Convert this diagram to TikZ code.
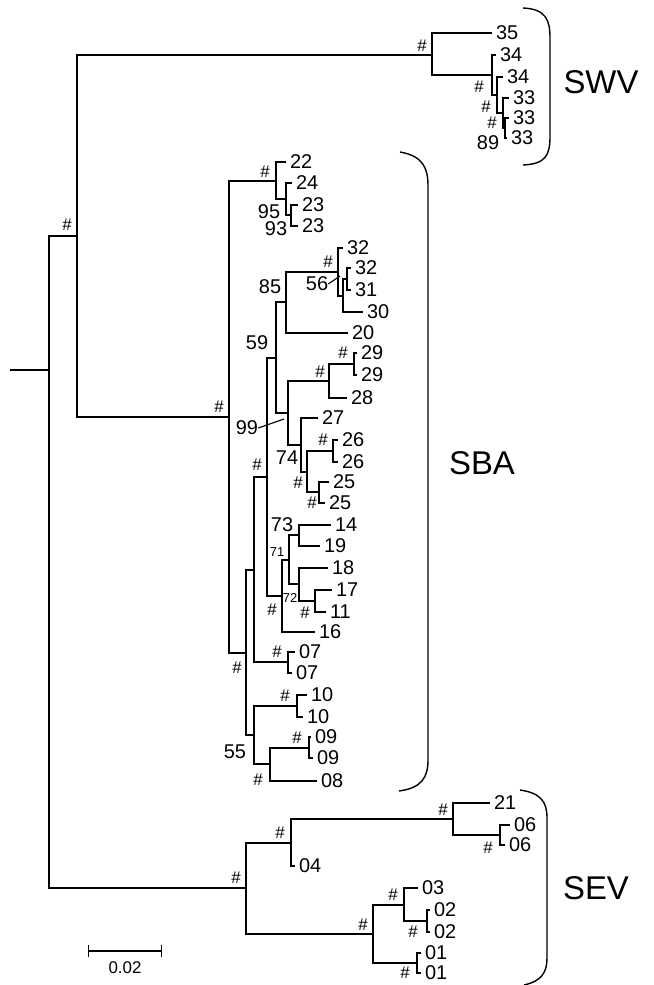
\documentclass[tikz,border=0pt]{standalone}
\usepackage{fontspec}
\setmainfont{Liberation Sans}
\usetikzlibrary{arrows.meta}

\begin{document}
\begin{tikzpicture}[x=1bp, y=-1bp,
    font=\fontsize{20}{22}\selectfont,
    branch/.style={draw=black, line width=1.4bp},
    leaf/.style={anchor=west, inner xsep=4bp, inner ysep=1bp, outer sep=0pt},
    hash/.style={inner sep=0pt, font=\fontsize{17}{18}\selectfont},
    support/.style={inner sep=0pt},
    tiny support/.style={inner sep=0pt, font=\fontsize{13}{14}\selectfont},
    clade/.style={inner sep=0pt, font=\fontsize{33}{36}\selectfont},
    bracket/.style={draw=black, line width=1.4bp},
    pointer/.style={draw=black, line width=1.1bp}
  ]
    \useasboundingbox (0,0) rectangle (654,985);

    \coordinate (stub) at (10,370);
    \coordinate (root) at (49,370);
    \coordinate (top) at (77,236);
    \node[hash] (htop) at (67,225) {\#};

    \coordinate (swv) at (432,55);
    \coordinate (sa) at (492,75);
    \coordinate (sb) at (497,95);
    \coordinate (sc) at (503,113);
    \coordinate (sd) at (505,128);
    \node[leaf] (l35) at (492,33) {35};
    \node[leaf] (l34a) at (496,55) {34};
    \node[leaf] (l34b) at (503,77) {34};
    \node[leaf] (l33a) at (509,98) {33};
    \node[leaf] (l33b) at (509,118) {33};
    \node[leaf] (l33c) at (507,138) {33};
    \node[hash] (hswv) at (422,46) {\#};
    \node[hash] (hsa) at (479,87) {\#};
    \node[hash] (hsb) at (486,107) {\#};
    \node[hash] (hsc) at (492,123) {\#};
    \node[support] (bsd) at (488,143) {89};

    \coordinate (sba) at (229,417);
    \coordinate (p1) at (276,181);
    \coordinate (p2) at (286,199);
    \coordinate (p3) at (291,215);
    \coordinate (u) at (246,653);
    \coordinate (t) at (254,570);
    \coordinate (r) at (267,477);
    \coordinate (n59) at (276,358);
    \coordinate (n85) at (286,302);
    \coordinate (n1) at (338,272);
    \coordinate (n2) at (343,296);
    \coordinate (n3) at (347,279);
    \coordinate (n99) at (288,413);
    \coordinate (n2928) at (329,381);
    \coordinate (n29) at (354,364);
    \coordinate (n74) at (301,445);
    \coordinate (q) at (307,472);
    \coordinate (n26) at (333,451);
    \coordinate (n25) at (319,492);
    \coordinate (s) at (282,596);
    \coordinate (n71) at (289,560);
    \coordinate (n73) at (299,535);
    \coordinate (n72) at (299,584);
    \coordinate (n1711) at (315,601);
    \coordinate (n07) at (288,662);
    \coordinate (v) at (254,735);
    \coordinate (n10) at (297,706);
    \coordinate (w) at (270,764);
    \coordinate (n09) at (309,748);

    \node[leaf] (l22) at (286,162) {22};
    \node[leaf] (l24) at (292,183) {24};
    \node[leaf] (l23a) at (298,205) {23};
    \node[leaf] (l23b) at (298,226) {23};
    \node[leaf] (l32a) at (343,248) {32};
    \node[leaf] (l32b) at (351,268) {32};
    \node[leaf] (l31) at (351,290) {31};
    \node[leaf] (l30) at (363,312) {30};
    \node[leaf] (l20) at (348,333) {20};
    \node[leaf] (l29a) at (357,353) {29};
    \node[leaf] (l29b) at (357,375) {29};
    \node[leaf] (l28) at (347,398) {28};
    \node[leaf] (l27) at (318,418) {27};
    \node[leaf] (l26a) at (338,440) {26};
    \node[leaf] (l26b) at (338,462) {26};
    \node[leaf] (l25a) at (329,482) {25};
    \node[leaf] (l25b) at (325,503) {25};
    \node[leaf] (l14) at (331,525) {14};
    \node[leaf] (l19) at (320,546) {19};
    \node[leaf] (l18) at (328,568) {18};
    \node[leaf] (l17) at (332,590) {17};
    \node[leaf] (l11) at (326,612) {11};
    \node[leaf] (l16) at (315,632) {16};
    \node[leaf] (l07a) at (295,652) {07};
    \node[leaf] (l07b) at (292,673) {07};
    \node[leaf] (l10a) at (307,695) {10};
    \node[leaf] (l10b) at (303,717) {10};
    \node[leaf] (l09a) at (311,737) {09};
    \node[leaf] (l09b) at (313,758) {09};
    \node[leaf] (l08) at (317,781) {08};

    \node[hash] (hsba) at (219,407) {\#};
    \node[hash] (hp1) at (265,172) {\#};
    \node[support] (bp2) at (269,212) {95};
    \node[support] (bp3) at (276,229) {93};
    \node[support] (bn85) at (270,287) {85};
    \node[hash] (hn1) at (328,262) {\#};
    \node[support] (bn2) at (317,284) {56};
    \coordinate (pn2) at (340,276);
    \node[support] (bn59) at (257,343) {59};
    \node[support] (bn99) at (247,428) {99};
    \coordinate (pn99) at (284,419);
    \node[hash] (hn2928) at (320,372) {\#};
    \node[hash] (hn29) at (343,353) {\#};
    \node[support] (bn74) at (287,458) {74};
    \node[hash] (hn26) at (323,440) {\#};
    \node[hash] (hq) at (298,483) {\#};
    \node[hash] (hn25) at (312,503) {\#};
    \node[hash] (hr) at (257,465) {\#};
    \node[support] (bn73) at (282,525) {73};
    \node[tiny support] (bn71) at (277,552) {71};
    \node[tiny support] (bn72) at (290,598) {72};
    \node[hash] (hn1711) at (305,613) {\#};
    \node[hash] (hs) at (272,610) {\#};
    \node[hash] (hn07) at (277,652) {\#};
    \node[hash] (hu) at (237,668) {\#};
    \node[support] (bv) at (235,752) {55};
    \node[hash] (hn10) at (285,696) {\#};
    \node[hash] (hn09) at (297,738) {\#};
    \node[hash] (hw) at (258,780) {\#};

    \coordinate (sev) at (246,888);
    \coordinate (e) at (291,843);
    \coordinate (g) at (453,819);
    \coordinate (h) at (500,835);
    \coordinate (f) at (373,934);
    \coordinate (i) at (404,905);
    \coordinate (k) at (427,921);
    \coordinate (j) at (417,963);
    \node[leaf] (l21) at (490,803) {21};
    \node[leaf] (l06a) at (510,825) {06};
    \node[leaf] (l06b) at (505,845) {06};
    \node[leaf] (l04) at (295,866) {04};
    \node[leaf] (l03) at (418,888) {03};
    \node[leaf] (l02a) at (430,910) {02};
    \node[leaf] (l02b) at (430,932) {02};
    \node[leaf] (l01a) at (421,953) {01};
    \node[leaf] (l01b) at (421,973) {01};
    \node[hash] (hsev) at (236,878) {\#};
    \node[hash] (he) at (280,833) {\#};
    \node[hash] (hg) at (443,810) {\#};
    \node[hash] (hh) at (488,848) {\#};
    \node[hash] (hf) at (363,925) {\#};
    \node[hash] (hi) at (393,895) {\#};
    \node[hash] (hk) at (413,932) {\#};
    \node[hash] (hj) at (405,973) {\#};

    \draw[branch] (stub) -- (root);
    \draw[branch] (root) |- (top);
    \draw[branch] (root) |- (sev);
    \draw[branch] (top) |- (swv);
    \draw[branch] (top) |- (sba);

    \draw[branch] (swv) |- (l35);
    \draw[branch] (swv) |- (sa);
    \draw[branch] (sa) |- (l34a);
    \draw[branch] (sa) |- (sb);
    \draw[branch] (sb) |- (l34b);
    \draw[branch] (sb) |- (sc);
    \draw[branch] (sc) |- (l33a);
    \draw[branch] (sc) |- (sd);
    \draw[branch] (sd) |- (l33b);
    \draw[branch] (sd) |- (l33c);

    \draw[branch] (sba) |- (p1);
    \draw[branch] (sba) |- (u);
    \draw[branch] (p1) |- (l22);
    \draw[branch] (p1) |- (p2);
    \draw[branch] (p2) |- (l24);
    \draw[branch] (p2) |- (p3);
    \draw[branch] (p3) |- (l23a);
    \draw[branch] (p3) |- (l23b);
    \draw[branch] (u) |- (t);
    \draw[branch] (u) |- (v);
    \draw[branch] (t) |- (r);
    \draw[branch] (t) |- (n07);
    \draw[branch] (r) |- (n59);
    \draw[branch] (r) |- (s);
    \draw[branch] (n59) |- (n85);
    \draw[branch] (n59) |- (n99);
    \draw[branch] (n85) |- (n1);
    \draw[branch] (n85) |- (l20);
    \draw[branch] (n1) |- (l32a);
    \draw[branch] (n1) |- (n2);
    \draw[branch] (n2) |- (n3);
    \draw[branch] (n2) |- (l30);
    \draw[branch] (n3) |- (l32b);
    \draw[branch] (n3) |- (l31);
    \draw[branch] (n99) |- (n2928);
    \draw[branch] (n99) |- (n74);
    \draw[branch] (n2928) |- (n29);
    \draw[branch] (n2928) |- (l28);
    \draw[branch] (n29) |- (l29a);
    \draw[branch] (n29) |- (l29b);
    \draw[branch] (n74) |- (l27);
    \draw[branch] (n74) |- (q);
    \draw[branch] (q) |- (n26);
    \draw[branch] (q) |- (n25);
    \draw[branch] (n26) |- (l26a);
    \draw[branch] (n26) |- (l26b);
    \draw[branch] (n25) |- (l25a);
    \draw[branch] (n25) |- (l25b);
    \draw[branch] (s) |- (n71);
    \draw[branch] (s) |- (l16);
    \draw[branch] (n71) |- (n73);
    \draw[branch] (n71) |- (n72);
    \draw[branch] (n73) |- (l14);
    \draw[branch] (n73) |- (l19);
    \draw[branch] (n72) |- (l18);
    \draw[branch] (n72) |- (n1711);
    \draw[branch] (n1711) |- (l17);
    \draw[branch] (n1711) |- (l11);
    \draw[branch] (n07) |- (l07a);
    \draw[branch] (n07) |- (l07b);
    \draw[branch] (v) |- (n10);
    \draw[branch] (v) |- (w);
    \draw[branch] (n10) |- (l10a);
    \draw[branch] (n10) |- (l10b);
    \draw[branch] (w) |- (n09);
    \draw[branch] (w) |- (l08);
    \draw[branch] (n09) |- (l09a);
    \draw[branch] (n09) |- (l09b);
    \draw[pointer] (bn2.east) -- (pn2);
    \draw[pointer] (bn99.east) -- (pn99);

    \draw[branch] (sev) |- (e);
    \draw[branch] (sev) |- (f);
    \draw[branch] (e) |- (g);
    \draw[branch] (e) |- (l04);
    \draw[branch] (g) |- (l21);
    \draw[branch] (g) |- (h);
    \draw[branch] (h) |- (l06a);
    \draw[branch] (h) |- (l06b);
    \draw[branch] (f) |- (i);
    \draw[branch] (f) |- (j);
    \draw[branch] (i) |- (l03);
    \draw[branch] (i) |- (k);
    \draw[branch] (k) |- (l02a);
    \draw[branch] (k) |- (l02b);
    \draw[branch] (j) |- (l01a);
    \draw[branch] (j) |- (l01b);

    \draw[bracket] (523,8) .. controls (546,9) and (550,20) .. (550,38) -- (550,136) .. controls (550,155) and (546,164) .. (523,165);
    \node[clade] (swvname) at (601,82) {SWV};
    \draw[bracket] (400,152) .. controls (423,156) and (428,168) .. (428,186) -- (428,760) .. controls (428,777) and (422,788) .. (399,791);
    \node[clade] (sbaname) at (482,463) {SBA};
    \draw[bracket] (520,790) .. controls (541,793) and (547,802) .. (547,818) -- (547,958) .. controls (547,972) and (542,981) .. (524,985);
    \node[clade] (sevname) at (596,888) {SEV};

    \coordinate (scaleL) at (88,951);
    \coordinate (scaleR) at (162,951);
    \draw[branch, {Bar[width=12bp]}-{Bar[width=12bp]}] (scaleL) -- (scaleR);
    \node[hash] (scalelabel) at (125,968) {0.02};
  \end{tikzpicture}
\end{document}
